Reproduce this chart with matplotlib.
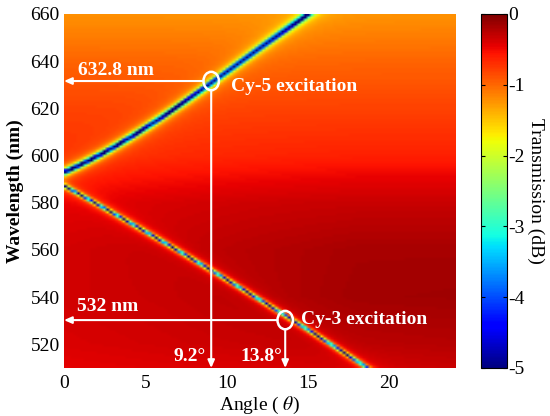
import numpy as np
import matplotlib
matplotlib.use("Agg")
import matplotlib.pyplot as plt
from matplotlib.patches import Ellipse

plt.rcParams['font.family'] = ['Liberation Serif', 'DejaVu Serif']
plt.rcParams['mathtext.fontset'] = 'stix'
plt.rcParams['axes.unicode_minus'] = False

# background transmission (dB) on a coarse grid
bg_angles = [0, 6, 12, 18, 24.1]
bg_wavelengths = [510, 520, 540, 560, 580, 590, 600, 620, 640, 660]
bg_db = [
    [-0.45, -0.42, -0.40, -0.36, -0.32],
    [-0.40, -0.36, -0.32, -0.26, -0.24],
    [-0.36, -0.32, -0.24, -0.16, -0.15],
    [-0.36, -0.30, -0.24, -0.18, -0.18],
    [-0.42, -0.38, -0.34, -0.32, -0.32],
    [-0.55, -0.52, -0.48, -0.45, -0.45],
    [-0.68, -0.67, -0.64, -0.62, -0.62],
    [-0.80, -0.80, -0.80, -0.80, -0.80],
    [-0.98, -0.98, -0.98, -0.98, -0.98],
    [-1.22, -1.22, -1.22, -1.22, -1.22],
]

# resonance dips (angle in degrees -> wavelength in nm)
upper_angles = [0, 2.2, 5, 9.05, 12, 14.9]
upper_wl = [593, 601.5, 611.5, 631.6, 646, 660]
lower_angles = [0, 5, 9.2, 13.6, 18.7]
lower_wl = [586, 569.5, 549.8, 530.3, 510]

# marked excitation points
cy5_angle, cy5_wl = 9.05, 631.6
cy3_angle, cy3_wl = 13.6, 530.3

angle = np.arange(0, 24.1 + 1e-6, 0.2)
wavelength = np.arange(510, 660 + 1e-6, 1.0)

# background field from the table
rows = np.array([np.interp(angle, bg_angles, r) for r in bg_db])
field = np.empty((len(wavelength), len(angle)))
for j in range(len(angle)):
    field[:, j] = np.interp(wavelength, bg_wavelengths, rows[:, j])

A, W = np.meshgrid(angle, wavelength)
c_up = np.polyval(np.polyfit(upper_angles, upper_wl, 3), A)
c_lo = np.polyval(np.polyfit(lower_angles, lower_wl, 2), A)
field += -6.0 / (1 + ((W - c_up) / 0.9) ** 2)
field += -4.8 / (1 + ((W - c_lo) / 0.55) ** 2)
field = np.clip(field, -5, 0)

fig = plt.figure(figsize=(5.5, 4.16), dpi=100)
ax = fig.add_axes([64 / 550, 48 / 416, 392 / 550, 354 / 416])
im = ax.imshow(field, origin='lower', aspect='auto', cmap='jet', vmin=-5, vmax=0,
               extent=(0, 24.1, 510, 660), interpolation='bilinear')
ax.set_xlim(0, 24.1)
ax.set_ylim(510, 660)
ax.set_xticks([0, 5, 10, 15, 20])
ax.set_yticks([520, 540, 560, 580, 600, 620, 640, 660])
ax.tick_params(axis='both', length=0, labelsize=14)
ax.tick_params(axis='y', pad=3)
ax.tick_params(axis='x', pad=5)
for s in ax.spines.values():
    s.set_visible(False)
ax.set_xlabel(r'Angle ( $\theta$)', fontsize=14, labelpad=2)
ax.set_ylabel('Wavelength (nm)', fontsize=14, fontweight='bold', labelpad=5)

arrow = dict(arrowstyle='-|>,head_length=0.45,head_width=0.2', color='white', lw=1.5,
             shrinkA=0, shrinkB=0)
for a, w in [(cy5_angle, cy5_wl), (cy3_angle, cy3_wl)]:
    ax.add_patch(Ellipse((a, w), 0.95, 7.8, fill=False, ec='white', lw=1.8))
    ax.annotate('', xy=(0, w), xytext=(a - 0.48, w), arrowprops=arrow)
    ax.annotate('', xy=(a, 510), xytext=(a, w - 3.9), arrowprops=arrow)

txt = dict(color='white', fontsize=14, fontweight='bold')
ax.text(0.85, 634, '632.8 nm', va='baseline', **txt)
ax.text(10.25, 627.5, 'Cy-5 excitation', va='baseline', **txt)
ax.text(0.82, 534.3, '532 nm', va='baseline', **txt)
ax.text(14.6, 528.6, 'Cy-3 excitation', va='baseline', **txt)
ax.text(8.72, 513.1, '9.2°', ha='right', va='baseline', **txt)
ax.text(13.4, 513.1, '13.8°', ha='right', va='baseline', **txt)

cax = fig.add_axes([481 / 550, 48 / 416, 26 / 550, 354 / 416])
cb = fig.colorbar(im, cax=cax, ticks=[0, -1, -2, -3, -4, -5])
cb.ax.set_yticklabels(['0', '-1', '-2', '-3', '-4', '-5'])
cb.ax.tick_params(labelsize=14, length=3, direction='in', pad=1, left=True)
cb.outline.set_linewidth(0.8)
cb.set_label('Transmission (dB)', fontsize=14, rotation=270, labelpad=14)

fig.savefig('out.png', dpi=100)
